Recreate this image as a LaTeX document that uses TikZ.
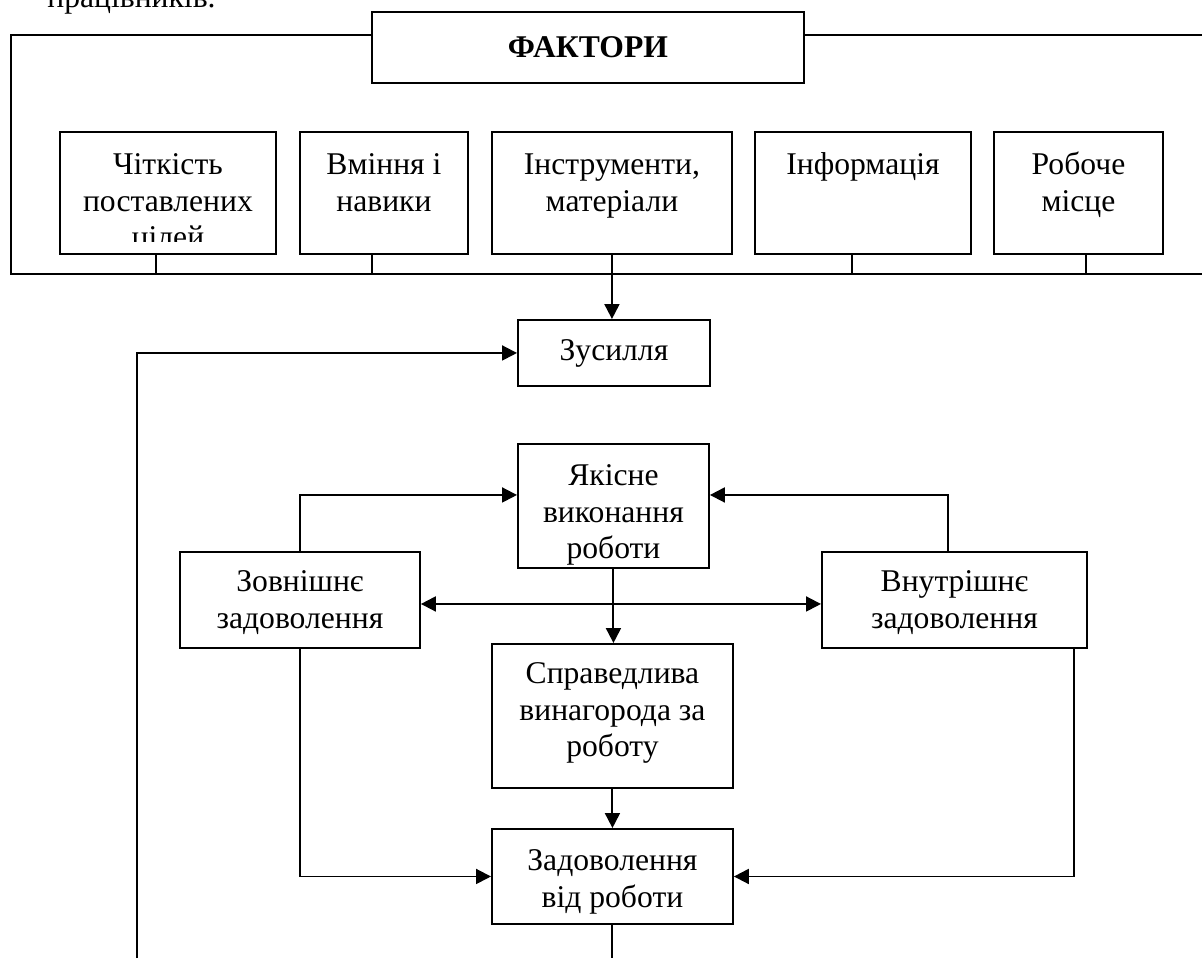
\documentclass[tikz,border=0pt]{standalone}
\usepackage{fontspec}
\setmainfont{Liberation Serif}
\usetikzlibrary{arrows.meta, positioning}

\begin{document}
\begin{tikzpicture}[
    x=0.02cm, y=-0.02cm,
    font=\fontsize{18}{21}\selectfont,
    box/.style={draw, line width=1.1pt, inner sep=0pt, anchor=north west},
    txt/.style={align=center, inner sep=0pt, anchor=north},
    link/.style={line width=1.1pt},
    arrow/.style={link, -{Triangle[length=0.3cm, width=0.3cm]}},
    twoway/.style={link, {Triangle[length=0.3cm, width=0.3cm]}-{Triangle[length=0.3cm, width=0.3cm]}}
  ]
  \useasboundingbox (0,0) rectangle (1202,958);

  % -------- Text of the page above --------
  \node[anchor=base west, inner sep=0pt] (prev) at (47,7) {працівників.};

  % -------- Factors frame --------
  \node[box, minimum width=8.64cm, minimum height=1.42cm] (fact) at (371,11) {\textbf{ФАКТОРИ}};
  \coordinate (tl) at (11,35);
  \coordinate (tr) at (1202,35);
  \coordinate (bl) at (11,274);
  \coordinate (br) at (1202,274);
  \draw[link] (fact.west |- tl) -- (tl) -- (bl) -- (br);
  \draw[link] (fact.east |- tr) -- (tr);

  % -------- Factor boxes --------
  \node[box, minimum width=4.32cm, minimum height=2.44cm] (b1) at (59,131) {};
  \node[box, minimum width=3.36cm, minimum height=2.44cm] (b2) at (299,131) {};
  \node[box, minimum width=4.8cm, minimum height=2.44cm] (b3) at (491,131) {};
  \node[box, minimum width=4.32cm, minimum height=2.44cm] (b4) at (754,131) {};
  \node[box, minimum width=3.38cm, minimum height=2.44cm] (b5) at (993,131) {};

  \begin{scope}
    \clip (b1.north west) rectangle ([yshift=0.26cm]b1.south east);
    \node[txt] (b1-t) at ([yshift=-0.34cm]b1.north) {\strut Чіткість\\поставлених\\цілей};
  \end{scope}
  \node[txt] (b2-t) at ([yshift=-0.34cm]b2.north) {\strut Вміння і\\навики};
  \node[txt] (b3-t) at ([yshift=-0.34cm]b3.north) {\strut Інструменти,\\матеріали};
  \node[txt] (b4-t) at ([yshift=-0.34cm]b4.north) {\strut Інформація};
  \node[txt] (b5-t) at ([yshift=-0.34cm]b5.north) {\strut Робоче\\місце};

  \draw[link] ([xshift=-0.24cm]b1.south) -- ([xshift=-0.24cm]b1.south |- bl);
  \draw[link] ([xshift=-0.24cm]b2.south) -- ([xshift=-0.24cm]b2.south |- bl);
  \draw[link] ([xshift=-0.22cm]b4.south) -- ([xshift=-0.22cm]b4.south |- bl);
  \draw[link] ([xshift=0.15cm]b5.south) -- ([xshift=0.15cm]b5.south |- bl);

  % -------- Effort and results --------
  \node[box, minimum width=3.84cm, minimum height=1.32cm] (effort) at (517,319) {Зусилля};
  \node[box, minimum width=3.82cm, minimum height=2.48cm] (quality) at (517,443) {};
  \node[box, minimum width=4.8cm, minimum height=1.92cm] (ext) at (179,551) {};
  \node[box, minimum width=5.3cm, minimum height=1.92cm] (int) at (821,551) {};
  \node[box, minimum width=4.82cm, minimum height=2.88cm] (reward) at (491,643) {};
  \node[box, minimum width=4.82cm, minimum height=1.9cm] (satis) at (491,828) {};

  \node[txt] (quality-t) at ([yshift=-0.32cm]quality.north) {\strut Якісне\\виконання\\роботи};
  \node[txt] (ext-t) at ([yshift=-0.28cm]ext.north) {\strut Зовнішнє\\задоволення};
  \node[txt] (int-t) at ([yshift=-0.28cm]int.north) {\strut Внутрішнє\\задоволення};
  \node[txt] (reward-t) at ([yshift=-0.28cm]reward.north) {\strut Справедлива\\винагорода за\\роботу};
  \node[txt] (satis-t) at ([yshift=-0.32cm]satis.north) {\strut Задоволення\\від роботи};

  % -------- Arrows --------
  \coordinate (loop) at (137,958);
  \draw[arrow] (b3.south) -- (b3.south |- effort.north);
  \draw[arrow] (loop) |- (effort.west);
  \draw[arrow] (ext.north) |- ([yshift=0.22cm]quality.west);
  \draw[arrow] ([xshift=-0.13cm]int.north) |- ([yshift=0.22cm]quality.east);
  \draw[twoway] ([yshift=-0.08cm]ext.east) -- ([yshift=-0.08cm]int.west);
  \draw[arrow] (quality.south) -- (quality.south |- reward.north);
  \draw[arrow] (reward.south) -- (reward.south |- satis.north);
  \draw[arrow] (ext.south) |- (satis.west);
  \draw[arrow] ([xshift=2.4cm]int.south) |- (satis.east);
  \draw[link] (satis.south) -- (satis.south |- loop);
\end{tikzpicture}
\end{document}
